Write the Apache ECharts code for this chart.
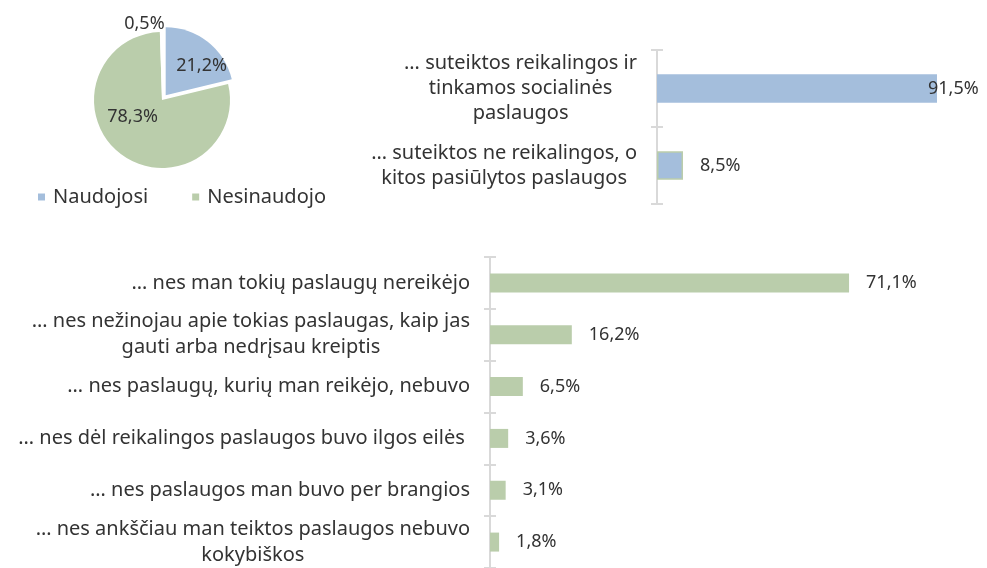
<!DOCTYPE html>
<html>
<head>
<meta charset="utf-8">
<script src="https://cdn.jsdelivr.net/npm/echarts@6/dist/echarts.min.js"></script>
<style>
  html, body { margin: 0; padding: 0; background: #fff; }
  #main { width: 987px; height: 568px; }
</style>
</head>
<body>
<div id="main"></div>
<script>
const pieNames = ['Naudojosi', 'Nesinaudojo', 'Kita']
const pieValues = [21.2, 78.3, 0.5]

const topCategories = [
  '… suteiktos reikalingos ir\ntinkamos socialinės\npaslaugos',
  '… suteiktos ne reikalingos, o\nkitos pasiūlytos paslaugos'
]
const topValues = [91.5, 8.5]

const reasonCategories = [
  '… nes man tokių paslaugų nereikėjo',
  '… nes nežinojau apie tokias paslaugas, kaip jas\ngauti arba nedrįsau kreiptis',
  '… nes paslaugų, kurių man reikėjo, nebuvo',
  '… nes dėl reikalingos paslaugos buvo ilgos eilės ',
  '… nes paslaugos man buvo per brangios',
  '… nes ankščiau man teiktos paslaugos nebuvo\nkokybiškos'
]
const reasonValues = [71.1, 16.2, 6.5, 3.6, 3.1, 1.8]

const BLUE = '#A4BEDC'
const GREEN = '#BACDAB'
const AXIS = '#D9D9D9'
const TEXT = '#333333'
const FONT = '"Noto Sans", "Open Sans", sans-serif'

const pct = (v) => v.toFixed(1).replace('.', ',') + '%'

// kategorijų tekstas: eilutės centruotos bloke, blokas prilygintas dešinėn
const catLabel = (lineHeight) => ({
  align: 'right',
  margin: 20,
  formatter: (v) => v.split('\n').map((l) => `{c|${l}}`).join('\n'),
  rich: {
    c: {align: 'center', fontSize: 20, lineHeight, fontFamily: FONT, color: TEXT}
  }
})

const catAxis = (gridIndex, data, lineHeight) => [{
  type: 'category',
  gridIndex,
  inverse: true,
  position: 'left',
  data,
  axisLine: {show: true, lineStyle: {color: AXIS, width: 2}},
  axisTick: {show: true, length: 6, lineStyle: {color: AXIS, width: 2}},
  axisLabel: catLabel(lineHeight)
}, {
  // antra ašis tik tam, kad brūkšneliai kirstų ašį
  type: 'category',
  gridIndex,
  inverse: true,
  position: 'left',
  data,
  axisLine: {show: false},
  axisTick: {show: true, inside: true, length: 6, lineStyle: {color: AXIS, width: 2}},
  axisLabel: {show: false}
}]

const myChart = echarts.init(document.getElementById('main'))

const valueLabel = {
  show: true,
  position: 'right',
  distance: 17,
  fontSize: 18,
  color: TEXT,
  formatter: (p) => pct(p.value)
}

myChart.setOption({
  animation: false,
  textStyle: {fontFamily: FONT, color: TEXT},
  legend: {
    data: pieNames.slice(0, 2),
    left: 33,
    top: 182,
    icon: 'rect',
    itemWidth: 7,
    itemHeight: 7,
    itemGap: 44,
    textStyle: {fontSize: 20, color: TEXT, padding: [0, 0, 0, 3]}
  },
  grid: [
    {left: 657, top: 50, width: 306, height: 154},
    {left: 490, top: 257, width: 404, height: 312}
  ],
  xAxis: [
    {type: 'value', gridIndex: 0, min: 0, max: 100, show: false},
    {type: 'value', gridIndex: 1, min: 0, max: 80, show: false}
  ],
  yAxis: [
    ...catAxis(0, topCategories, 25),
    ...catAxis(1, reasonCategories, 26)
  ],
  series: [{
    type: 'pie',
    center: [162, 100],
    radius: 68,
    startAngle: 90,
    selectedMode: 'single',
    selectedOffset: 6,
    emphasis: {disabled: true},
    label: {
      position: 'inside',
      fontSize: 18,
      color: TEXT,
      formatter: (p) => pct(p.value)
    },
    labelLayout: (p) => [
      {dx: 13, dy: 0},
      {dx: -7, dy: -13},
      {dx: -17, dy: -39}
    ][p.dataIndex],
    data: pieNames.map((name, i) => ({
      name,
      value: pieValues[i],
      selected: i === 0,
      itemStyle: {color: [BLUE, GREEN, '#FFFFFF'][i]}
    }))
  }, {
    type: 'bar',
    xAxisIndex: 0,
    yAxisIndex: 0,
    barWidth: 28.5,
    itemStyle: {color: BLUE},
    label: valueLabel,
    data: topValues.map((value, i) => i === 0
      ? {value, label: {distance: -9}}
      : {value, itemStyle: {borderColor: GREEN, borderWidth: 1.5}})
  }, {
    type: 'bar',
    xAxisIndex: 1,
    yAxisIndex: 2,
    barWidth: 19,
    itemStyle: {color: GREEN},
    label: valueLabel,
    data: reasonValues
  }]
})
</script>
</body>
</html>
